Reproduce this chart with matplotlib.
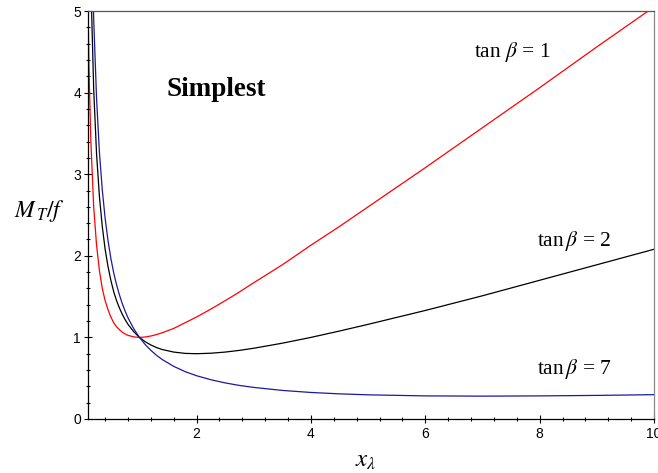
import matplotlib
matplotlib.use('Agg')
import matplotlib.pyplot as plt
from matplotlib.ticker import MultipleLocator

plt.rcParams['mathtext.fontset'] = 'stix'
plt.rcParams['font.family'] = ['Liberation Sans', 'DejaVu Sans']

# x_lambda and M_T/f
x = [0.1, 0.12, 0.15, 0.2, 0.25, 0.3, 0.35, 0.4, 0.45, 0.5, 0.55, 0.6, 0.65, 0.7, 0.75, 0.8, 0.9,
     1.0, 1.1, 1.2, 1.3, 1.4, 1.6, 1.8, 2.0, 2.25, 2.5, 2.75, 3.0, 3.5, 4.0, 4.5, 5.0,
     6.0, 7.0, 8.0, 9.0, 10.0]
tanb1 = [5.05, 4.23, 3.41, 2.60, 2.13, 1.82, 1.60, 1.45, 1.34, 1.25, 1.18, 1.13, 1.094, 1.064, 1.042, 1.025, 1.006,
         1.0, 1.0045, 1.017, 1.035, 1.057, 1.11, 1.18, 1.25, 1.347, 1.45, 1.557, 1.67, 1.89, 2.13, 2.36, 2.60,
         3.08, 3.57, 4.06, 4.56, 5.05]
tanb2 = [8.02, 6.69, 5.36, 4.04, 3.25, 2.73, 2.36, 2.08, 1.87, 1.70, 1.56, 1.45, 1.361, 1.283, 1.217, 1.16, 1.07,
         1.0, 0.947, 0.907, 0.875, 0.851, 0.82, 0.804, 0.80, 0.806, 0.82, 0.841, 0.867, 0.929, 1.0, 1.078, 1.16,
         1.33, 1.51, 1.70, 1.89, 2.08]
tanb7 = [9.80, 8.17, 6.54, 4.90, 3.93, 3.27, 2.81, 2.46, 2.19, 1.97, 1.79, 1.645, 1.521, 1.414, 1.322, 1.24, 1.107,
         1.0, 0.913, 0.841, 0.78, 0.728, 0.645, 0.58, 0.53, 0.481, 0.442, 0.411, 0.387, 0.35, 0.325, 0.308, 0.296,
         0.283, 0.28, 0.283, 0.289, 0.298]

fig = plt.figure(figsize=(6.58, 4.73), dpi=100)
ax = fig.add_axes([0.1337, 0.1142, 0.8602, 0.8625])

ax.plot(x, tanb1, color='#ff0000', lw=0.9)
ax.plot(x, tanb2, color='black', lw=0.9)
ax.plot(x, tanb7, color='#1a1aa0', lw=0.9)

ax.set_xlim(0.1, 10)
ax.set_ylim(0, 5)
ax.xaxis.set_major_locator(MultipleLocator(2))
ax.xaxis.set_minor_locator(MultipleLocator(0.4))
ax.yaxis.set_major_locator(MultipleLocator(1))
ax.yaxis.set_minor_locator(MultipleLocator(0.2))
ax.tick_params(which='major', direction='inout', length=6, width=0.8, labelsize=10, colors='black')
ax.tick_params(which='minor', direction='inout', length=3.5, width=0.8)
ax.tick_params(axis='x', pad=3)
ax.tick_params(axis='y', pad=2)

ax.set_yticks([0, 1, 2, 3, 4, 5])
ax.set_xticks([2, 4, 6, 8, 10])

ax.spines['top'].set_color('#555555')
ax.spines['right'].set_color('#888888')
for s in ax.spines.values():
    s.set_linewidth(0.9)

ax.text(6.85, 4.5, r'tan $\beta$ = 1', fontsize=15.5, family='Liberation Serif', va='center')
ax.text(7.95, 2.18, r'tan$\,\beta$ = 2', fontsize=15.5, family='Liberation Serif', va='center')
ax.text(7.95, 0.61, r'tan$\,\beta$ = 7', fontsize=15.5, family='Liberation Serif', va='center')
ax.text(1.47, 4.04, 'Simplest', fontsize=19.5, family='Liberation Serif', weight='bold', va='center')

ax.text(-0.085, 0.51, r'$M_{\,T}/f$', fontsize=17, transform=ax.transAxes, ha='center', va='center')
ax.text(0.49, -0.1, r'$x_{\lambda}$', fontsize=18, transform=ax.transAxes, ha='center', va='center')

fig.savefig('out.png', dpi=100)
